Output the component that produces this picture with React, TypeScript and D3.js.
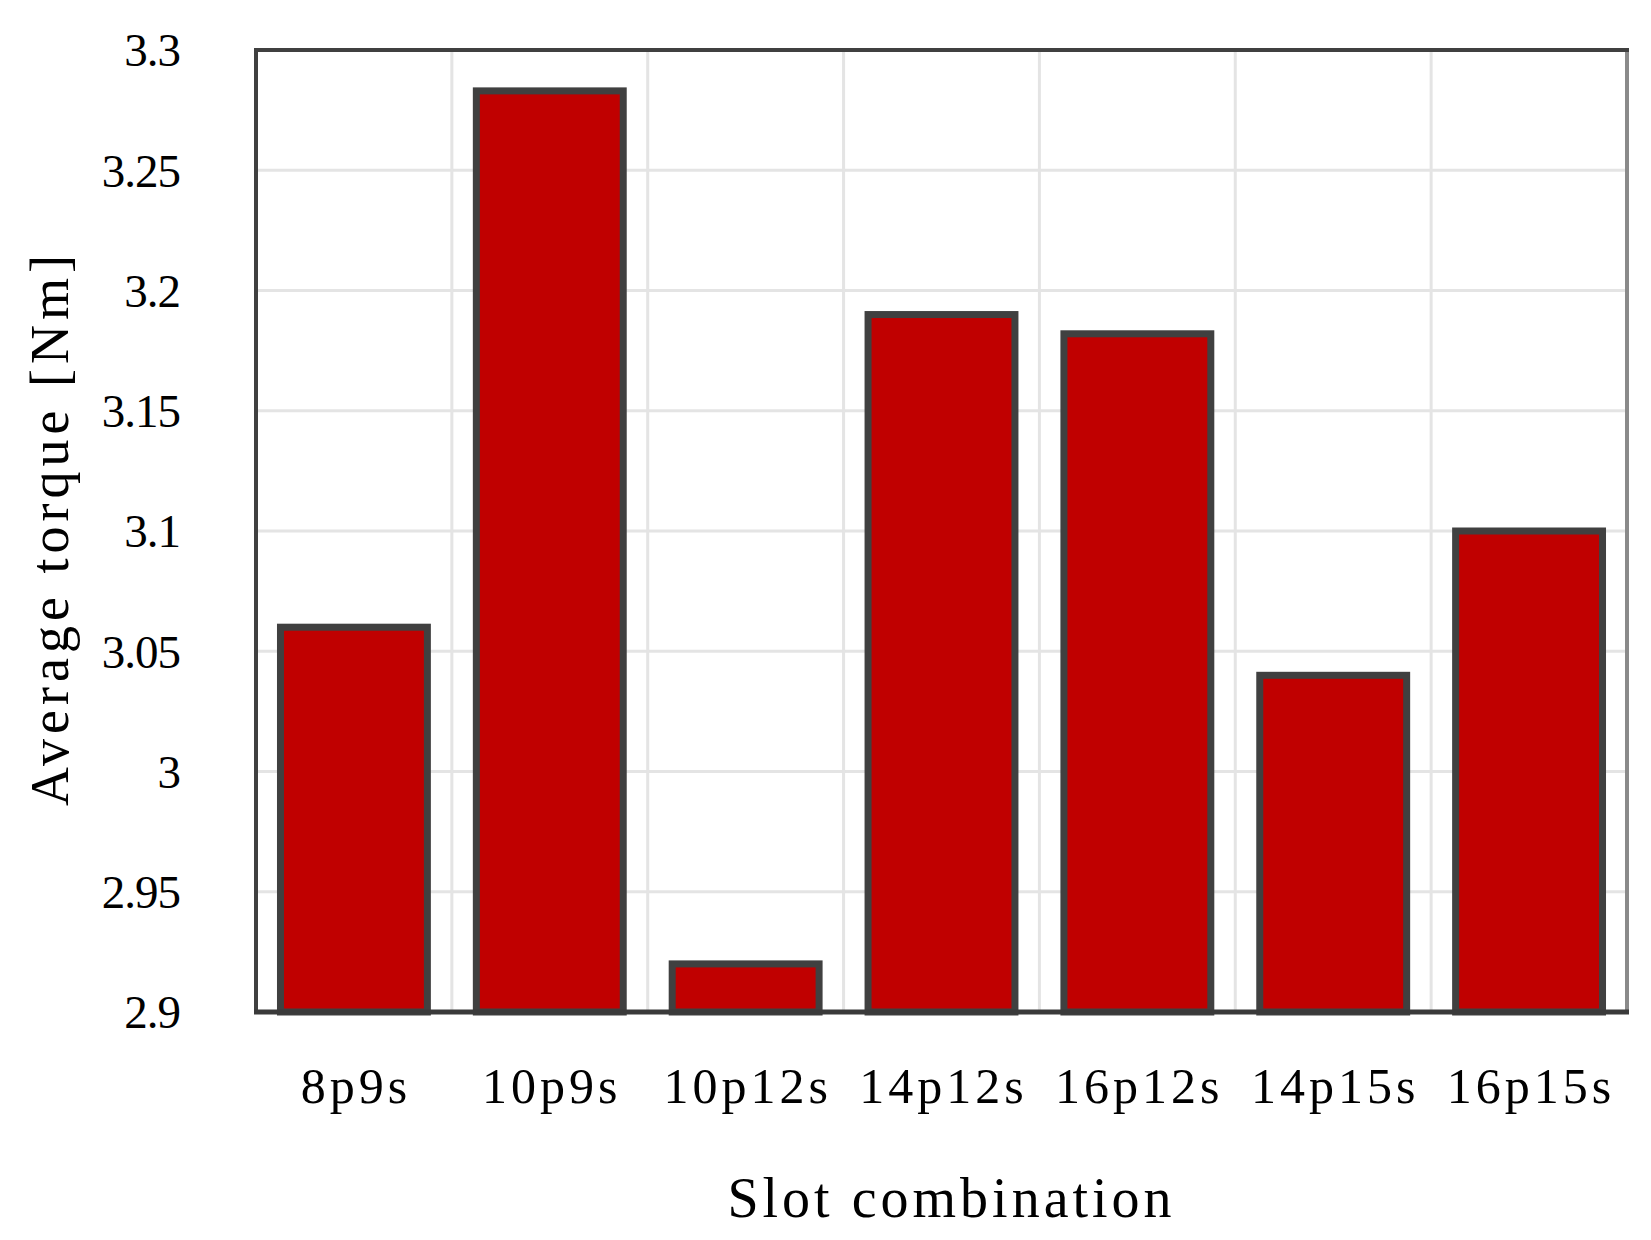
import React from 'react';
import * as d3 from 'd3';

// slot/pole combinations and their average torque (Nm)
const categories = ['8p9s', '10p9s', '10p12s', '14p12s', '16p12s', '14p15s', '16p15s'];
const torque = [3.06, 3.283, 2.92, 3.19, 3.182, 3.04, 3.1];
const yDomain = [2.9, 3.3];
const yTickValues = [2.9, 2.95, 3.0, 3.05, 3.1, 3.15, 3.2, 3.25, 3.3];

const W = 1651;
const H = 1240;
const margin = { top: 50, right: 24, bottom: 228, left: 256 };

const FONT = '"Liberation Serif", "Times New Roman", serif';

const App = () => {
    const x = d3.scaleBand()
        .domain(categories)
        .range([margin.left, W - margin.right])
        .paddingInner(0.25)
        .paddingOuter(0.125);

    const y = d3.scaleLinear()
        .domain(yDomain)
        .range([H - margin.bottom, margin.top]);

    const left = margin.left;
    const right = W - margin.right;
    const top = margin.top;
    const bottom = H - margin.bottom;

    // vertical grid lines sit on the category boundaries
    const step = x.step();
    const vGrid = d3.range(1, categories.length).map(i => left + i * step);

    const fmt = (v) => String(+v.toFixed(2));

    return (
        <svg width={W} height={H} style={{ position: 'absolute', left: 0, top: 0, background: '#fff' }}>
            <rect x={0} y={0} width={W} height={H} fill="#fff" />

            {/* grid */}
            <g stroke="#e4e4e4" strokeWidth={3}>
                {yTickValues.map(t => (
                    <line key={'h' + t} x1={left} x2={right} y1={y(t)} y2={y(t)} />
                ))}
                {vGrid.map((gx, i) => (
                    <line key={'v' + i} x1={gx} x2={gx} y1={top} y2={bottom} />
                ))}
            </g>

            {/* frame */}
            <line x1={right} x2={right} y1={top - 2} y2={bottom} stroke="#8a8a8a" strokeWidth={4} />
            <line x1={left - 2} x2={right + 2} y1={top} y2={top} stroke="#404040" strokeWidth={4} />
            <line x1={left} x2={left} y1={top - 2} y2={bottom} stroke="#404040" strokeWidth={4} />

            {/* bars */}
            {categories.map((c, i) => (
                <rect
                    key={c}
                    x={x(c)}
                    y={y(torque[i])}
                    width={x.bandwidth()}
                    height={y(yDomain[0]) - y(torque[i])}
                    fill="#c00000"
                    stroke="#404040"
                    strokeWidth={7}
                />
            ))}

            {/* x axis line */}
            <line x1={left - 2} x2={right + 2} y1={bottom} y2={bottom} stroke="#3a3a3a" strokeWidth={5} />

            {/* y tick labels */}
            <g fontFamily={FONT} fontSize={47} fill="#000" textAnchor="end">
                {yTickValues.map(t => (
                    <text key={'yl' + t} x={180} y={y(t)} dy="0.35em" letterSpacing={-1}>{fmt(t)}</text>
                ))}
            </g>

            {/* x tick labels */}
            <g fontFamily={FONT} fontSize={50} fill="#000" textAnchor="middle" letterSpacing={4}>
                {categories.map(c => (
                    <text key={'xl' + c} x={x(c) + x.bandwidth() / 2 + 2} y={1103}>{c}</text>
                ))}
            </g>

            {/* axis titles */}
            <text
                x={(left + right) / 2 + 10}
                y={1217}
                textAnchor="middle"
                fontFamily={FONT}
                fontSize={56}
                letterSpacing={4}
                fill="#000"
            >Slot combination</text>
            <text
                transform={`translate(68, ${(top + bottom) / 2 - 3}) rotate(-90)`}
                textAnchor="middle"
                fontFamily={FONT}
                fontSize={54}
                letterSpacing={5}
                fill="#000"
            >Average torque [Nm]</text>
        </svg>
    );
};

export default App;
